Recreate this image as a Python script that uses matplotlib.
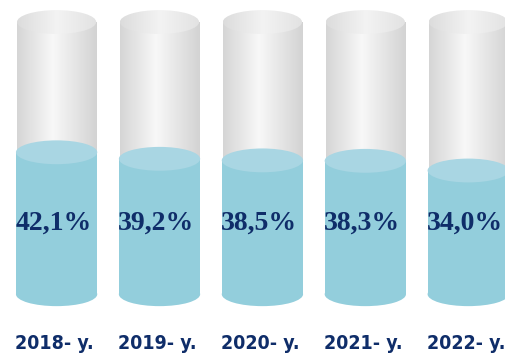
import numpy as np
import matplotlib
matplotlib.use('Agg')
import matplotlib.pyplot as plt
from matplotlib.patches import Ellipse, Rectangle
from matplotlib.colors import LinearSegmentedColormap

# data
years = ['2018- y.', '2019- y.', '2020- y.', '2021- y.', '2022- y.']
shares = [42.1, 39.2, 38.5, 38.3, 34.0]
full = [100, 100, 100, 100, 100]

fig = plt.figure(figsize=(5.06, 3.59), dpi=100)
ax = fig.add_axes([0, 0, 1, 1])

base = -21          # floor of the 3D cylinders
ry = 5.3            # half height of the ellipses (data units)
w_grey, w_blue = 0.77, 0.79

grey_side = LinearSegmentedColormap.from_list(
    'gs', [(0, '#d5d5d5'), (0.45, '#f8f8f8'), (1, '#d3d3d3')])
grey_top = LinearSegmentedColormap.from_list(
    'gt', [(0, '#dcdcdc'), (0.5, '#f3f3f3'), (1, '#e2e2e2')])
grad = np.linspace(0, 1, 256).reshape(1, -1)

blue_side = '#93cedc'
blue_top = '#a9d6e3'
navy = '#0f2d69'

for i, (v, f) in enumerate(zip(shares, full)):
    # grey background cylinder
    x0 = i - w_grey / 2
    im = ax.imshow(grad, cmap=grey_side, extent=[x0, x0 + w_grey, base, f],
                   aspect='auto', zorder=1, interpolation='bilinear')
    im.set_clip_path(Rectangle((x0, base), w_grey, f - base, transform=ax.transData))
    im2 = ax.imshow(grad, cmap=grey_top, extent=[x0, x0 + w_grey, f - ry, f + ry],
                    aspect='auto', zorder=2, interpolation='bilinear')
    im2.set_clip_path(Ellipse((i, f), w_grey, 2 * ry, transform=ax.transData))

    # blue value cylinder
    ax.add_patch(Ellipse((i, base), w_blue, 2 * ry, fc=blue_side, ec='none', zorder=3))
    ax.add_patch(Rectangle((i - w_blue / 2, base), w_blue, v - base, fc=blue_side, ec='none', zorder=3))
    ax.add_patch(Ellipse((i, v), w_blue, 2 * ry, fc=blue_top, ec='none', zorder=4))

    ax.text(i - 0.03, 10.7, f"{v:.1f}%".replace('.', ','), ha='center', va='center',
            fontsize=20, fontweight='bold', color=navy,
            family=['Liberation Serif', 'DejaVu Serif'], zorder=5)
    ax.text(i - 0.02, -42.7, years[i], ha='center', va='center', fontsize=14,
            color=navy, fontweight='bold', fontstretch='condensed',
            family=['DejaVu Sans'], zorder=5)

ax.set_xlim(-0.55, 4.367)
ax.set_ylim(-49.8, 109.8)
ax.axis('off')

fig.savefig('out.png', dpi=100)
